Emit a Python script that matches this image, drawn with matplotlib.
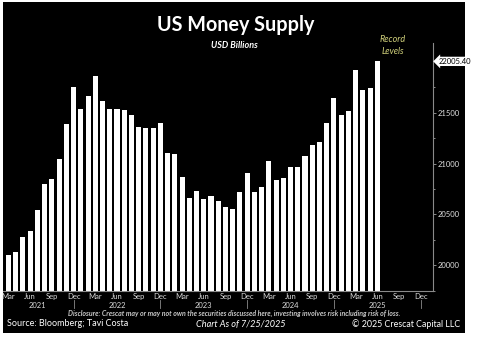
import matplotlib
matplotlib.use("Agg")
import matplotlib.pyplot as plt
import matplotlib.transforms as mtrans
from matplotlib.patches import Rectangle, FancyArrowPatch

# ---- data ----
months = []
_mn = ["Jan", "Feb", "Mar", "Apr", "May", "Jun", "Jul", "Aug", "Sep", "Oct", "Nov", "Dec"]
for y in range(2021, 2026):
    for m in _mn:
        months.append(f"{m} {y}")
months = months[2:2 + 52]  # Mar 2021 .. Jun 2025

values = [20104, 20135, 20274, 20336, 20539, 20796, 20845, 21045, 21390, 21754,
          21535, 21664, 21860, 21616, 21535, 21535, 21528, 21477, 21361, 21351,
          21351, 21400, 21100, 21090, 20868, 20665, 20726, 20648, 20684, 20629,
          20571, 20558, 20716, 20912, 20723, 20774, 21022, 20839, 20858, 20964,
          20967, 21077, 21183, 21209, 21396, 21645, 21477, 21522, 21918, 21725,
          21744, 22005.40]

tick_labels = ["Mar", "Jun", "Sep", "Dec"] * 5
year_labels = ["2021", "2022", "2023", "2024", "2025"]
year_pos = [4, 15, 27, 39, 51]
sep_pos = [9, 21, 33, 45, 57]
y_ticks = [20000, 20500, 21000, 21500]
last_label = "22005.40"

W, H = 503, 343
fig = plt.figure(figsize=(W / 100, H / 100), dpi=100)
fig.patch.set_facecolor("white")
bg = Rectangle((3 / W, 1 - 333 / H), 462 / W, 331 / H,
               transform=fig.transFigure, facecolor="black",
               edgecolor="none", zorder=-10)
fig.patches.append(bg)

FONT = "Lato"

ax = fig.add_axes([3 / W, 1 - 290.7 / H, 430 / W, (290.7 - 43) / H])
ax.set_zorder(1)
ax.set_facecolor("black")
x = list(range(len(values)))
ax.bar(x, values, width=0.7, color="white", edgecolor="none")
ax.set_xlim(-0.76, 58.7)
ax.set_ylim(19790, 22186)

for s in ["top", "left"]:
    ax.spines[s].set_visible(False)
for s in ["right", "bottom"]:
    ax.spines[s].set_color("#8a8a8a")
    ax.spines[s].set_linewidth(0.8)

ax.yaxis.tick_right()
ax.set_yticks(y_ticks)
ax.set_yticklabels([str(v) for v in y_ticks])
ax.set_yticks([19750 + 250 * k for k in range(10) if (19750 + 250 * k) % 500 != 0], minor=True)
ax.tick_params(axis="y", which="both", colors="#8a8a8a", labelcolor="#e0e0e0",
               labelsize=5.5, length=2, width=0.7, pad=1)
ax.tick_params(axis="y", which="minor", length=1.5)
for t in ax.get_yticklabels():
    t.set_fontfamily(FONT)

xt = list(range(0, 58, 3))
ax.set_xticks(xt)
ax.set_xticklabels(tick_labels)
ax.tick_params(axis="x", length=0, pad=2, labelsize=5.5, labelcolor="#d8d8d8")
for t in ax.get_xticklabels():
    t.set_fontfamily(FONT)

trans = mtrans.blended_transform_factory(ax.transData, fig.transFigure)
for p, lab in zip(year_pos, year_labels):
    ax.text(p, 1 - 305.7 / H, lab, transform=trans, ha="center", va="center",
            fontsize=5.5, color="#d8d8d8", family=FONT, clip_on=False)
for p in sep_pos:
    ax.plot([p, p], [1 - 300 / H, 1 - 307.5 / H], transform=trans, color="#8a8a8a",
            lw=0.6, clip_on=False)

# last value label
ytr = mtrans.blended_transform_factory(ax.transAxes, ax.transData)
ax.text(1.012, values[-1], last_label, transform=ytr, ha="left", va="center",
        fontsize=5.5, color="black", family=FONT,
        bbox=dict(boxstyle="larrow,pad=0.15", fc="white", ec="none"))

# titles and annotations
fig.text(236 / W, 1 - 25 / H, "US Money Supply", ha="center", va="center",
         fontsize=14.2, fontweight="bold", color="white", family=FONT)
fig.text(234 / W, 1 - 46 / H, "USD Billions", ha="center", va="center",
         fontsize=6.5, fontweight="bold", style="italic", color="white", family=FONT)
fig.text(393 / W, 1 - 39 / H, "Record", ha="center", va="center",
         fontsize=6.5, style="italic", color="#cfcf7a", family=FONT)
fig.text(393 / W, 1 - 51 / H, "Levels", ha="center", va="center",
         fontsize=6.5, style="italic", color="#cfcf7a", family=FONT)
fig.add_artist(FancyArrowPatch(
    (393 / W, 1 - 79 / H), (393 / W, 1 - 62 / H), transform=fig.transFigure,
    arrowstyle="simple,head_length=4,head_width=5,tail_width=1.8",
    color="#f4ee1a", lw=0))

fig.text(234 / W, 1 - 313.5 / H,
         "Disclosure: Crescat may or may not own the securities discussed here, investing involves risk including risk of loss.",
         ha="center", va="center", fontsize=5.0, style="italic", fontweight="bold",
         color="#c8c8c8", family=FONT)
fig.text(7 / W, 1 - 324 / H, "Source: Bloomberg; Tavi Costa", ha="left", va="center",
         fontsize=6.5, color="white", family=FONT)
fig.text(240.5 / W, 1 - 324 / H, "Chart As of 7/25/2025", ha="center", va="center",
         fontsize=6.6, style="italic", color="white", family=FONT)
fig.text(460 / W, 1 - 324 / H, "\u00a9 2025 Crescat Capital LLC", ha="right", va="center",
         fontsize=6.4, color="white", family=FONT)

fig.savefig("out.png", dpi=100, facecolor="white")
